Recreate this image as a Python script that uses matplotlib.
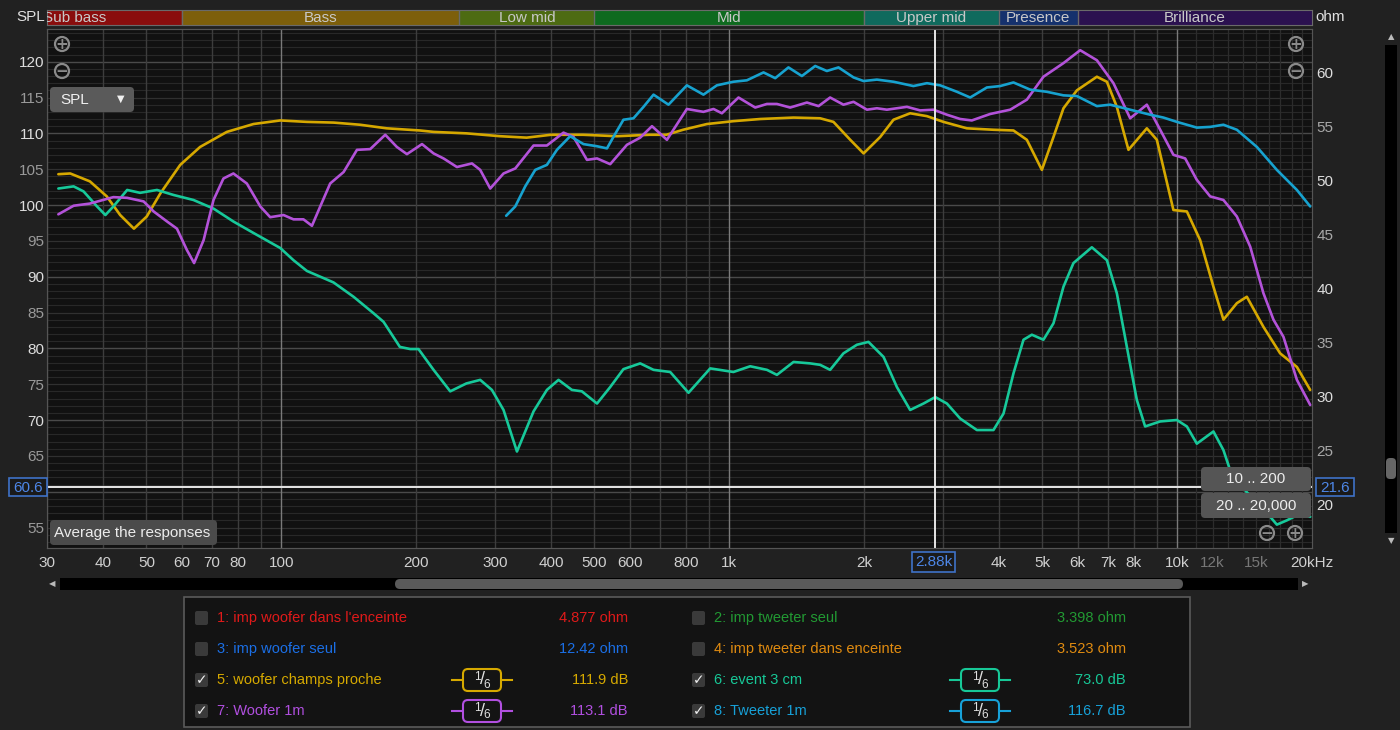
import matplotlib
matplotlib.use("Agg")
import matplotlib.pyplot as plt
from matplotlib.patches import FancyBboxPatch, Rectangle, Circle
import numpy as np

plt.rcParams['font.family'] = ['Liberation Sans', 'DejaVu Sans']

# ---------------- data ----------------
yellow_f = [31.8, 33.8, 37.4, 40.8, 43.7, 46.9, 50.1, 53.7, 59.5, 65.9, 75.6, 86.7, 99.5, 114, 131, 150, 172, 204,
            219, 259, 308, 353, 400, 472, 562, 665, 724, 789, 892, 1022, 1173, 1392, 1596, 1709, 1863, 1995, 2174,
            2327, 2535, 2763, 3008, 3393, 3890, 4311, 4618, 4989, 5296, 5575, 5973, 6619, 6968, 7334, 7786, 8557,
            9009, 9810, 10512, 11254, 12050, 12686, 13591, 14306, 15580, 16980, 18507, 19818]
yellow_db = [104.3, 104.4, 103.3, 101.2, 98.6, 96.7, 98.4, 101.6, 105.6, 108.1, 110.2, 111.3, 111.8, 111.6, 111.5,
             111.2, 110.7, 110.4, 110.2, 110.0, 109.6, 109.4, 109.8, 109.8, 109.6, 109.8, 109.8, 110.5, 111.3, 111.7,
             112.0, 112.2, 112.1, 111.6, 109.1, 107.2, 109.5, 111.9, 112.8, 112.4, 111.6, 110.7, 110.5, 110.4, 109.1,
             104.9, 109.5, 113.5, 116.0, 117.9, 117.2, 113.7, 107.7, 110.7, 109.1, 99.3, 99.1, 95.1, 88.6, 84.0, 86.3,
             87.2, 83.0, 79.3, 77.4, 74.2]

purple_f = [31.8, 34.4, 37.4, 42.2, 45.3, 49.3, 51.9, 55.6, 58.5, 61.6, 63.9, 67.1, 70.6, 74.3, 78.2, 83.8, 89.8,
            94.5, 101.2, 106.5, 112.1, 117.1, 122.2, 128.6, 137.8, 147.6, 158, 170.7, 181.2, 190.8, 206.2, 218.8,
            230.3, 246.7, 266.5, 278.1, 292.8, 313.5, 333, 365.8, 391.8, 426.7, 449.2, 481.4, 506.9, 542.5, 591.2,
            632.9, 672.4, 726.1, 804.5, 876.1, 922.6, 963.2, 1049, 1143, 1214, 1278, 1368, 1491, 1583, 1680, 1799,
            1895, 2030, 2137, 2249, 2493, 2669, 2858, 3062, 3279, 3480, 3824, 4240, 4618, 5029, 5575, 6075, 6619,
            7207, 7855, 8557, 9165, 9810, 10421, 11066, 11850, 12686, 13591, 14555, 15580, 16406, 17272, 18507, 19818]
purple_db = [98.7, 99.9, 100.2, 101.1, 101.0, 100.5, 99.1, 97.7, 96.7, 93.7, 91.9, 95.1, 100.7, 103.7, 104.4, 103.0,
             99.8, 98.3, 98.6, 98.0, 98.0, 97.1, 99.8, 103.0, 104.6, 107.7, 107.8, 109.8, 108.1, 107.1, 108.5, 107.2,
             106.5, 105.3, 105.8, 104.9, 102.3, 104.4, 105.1, 108.3, 108.3, 110.1, 109.5, 106.3, 106.5, 105.7, 108.4,
             109.4, 111.0, 109.1, 113.4, 113.0, 113.4, 112.8, 115.0, 113.6, 114.1, 114.1, 113.6, 114.3, 113.8, 115.0,
             114.0, 114.4, 113.3, 113.5, 113.3, 113.7, 113.2, 113.3, 112.6, 112.0, 111.8, 112.7, 113.3, 114.7, 117.9,
             119.8, 121.6, 120.2, 117.0, 112.1, 114.0, 110.5, 107.0, 106.5, 103.5, 101.2, 100.7, 98.4, 94.2, 87.7,
             84.0, 81.6, 75.6, 72.1]

blue_f = [317.8, 333, 350.5, 369, 391.8, 412.5, 441.6, 472.9, 506.9, 533.5, 551.5, 580.7, 611.4, 643.8, 677.8, 732,
          804.5, 876.1, 938.7, 1022, 1095, 1193, 1267, 1356, 1453, 1556, 1652, 1754, 1895, 1995, 2137, 2327, 2578,
          2763, 2958, 3224, 3451, 3760, 4027, 4311, 4698, 5118, 5575, 5973, 6619, 7086, 7855, 8707, 9320, 9985,
          11066, 11850, 12686, 13591, 15067, 16694, 18507, 19818]
blue_db = [98.5, 99.8, 102.6, 104.9, 105.6, 107.7, 109.6, 108.5, 108.2, 107.9, 109.5, 111.9, 112.1, 113.7, 115.4,
           114.0, 116.7, 115.4, 116.7, 117.2, 117.4, 118.5, 117.7, 119.2, 118.0, 119.4, 118.7, 119.2, 117.8, 117.3,
           117.5, 117.2, 116.6, 117.0, 116.7, 115.8, 115.0, 116.4, 116.6, 117.1, 116.1, 115.8, 115.3, 115.2, 113.8,
           114.0, 113.3, 112.6, 112.2, 111.6, 110.8, 110.9, 111.2, 110.5, 108.1, 104.9, 102.1, 99.8]

green_f = [31.8, 34.4, 36.2, 38.8, 40.5, 42.2, 45.3, 48.4, 52.8, 57.5, 63.7, 70.6, 78.2, 86.7, 99.5, 106.5, 114.1,
           124.3, 130.8, 145, 160.7, 169.2, 184, 194.1, 202.5, 218.8, 238.4, 259, 278.1, 295.3, 313.5, 335.9, 365.8,
           391.8, 415.9, 445.5, 469, 506.9, 542.5, 580.7, 632.9, 677.8, 738.4, 811.3, 907.1, 1022, 1114, 1214, 1278,
           1392, 1516, 1596, 1680, 1799, 1928, 2046, 2211, 2368, 2535, 2715, 2884, 3062, 3279, 3572, 3890, 4096,
           4311, 4539, 4739, 5029, 5296, 5575, 5868, 6450, 6968, 7334, 7722, 8128, 8482, 9165, 9985, 10512, 11066,
           12050, 12686, 13129, 14184, 15167, 16130, 16694, 17578, 18507, 19818]
green_db = [102.3, 102.6, 101.9, 99.8, 98.6, 99.8, 102.1, 101.7, 102.1, 101.4, 100.7, 99.5, 97.7, 96.1, 94.0, 92.3,
            90.8, 89.8, 89.2, 87.2, 84.9, 83.7, 80.2, 79.9, 79.9, 77.0, 74.0, 75.1, 75.6, 74.2, 71.4, 65.6, 71.2,
            74.2, 75.6, 74.2, 74.0, 72.3, 74.6, 77.1, 77.9, 77.0, 76.7, 73.8, 77.2, 76.7, 77.5, 77.0, 76.3, 78.1,
            77.9, 77.7, 77.0, 79.3, 80.5, 80.9, 78.8, 74.6, 71.4, 72.3, 73.2, 72.3, 70.2, 68.6, 68.6, 70.9, 76.5,
            81.2, 81.9, 81.2, 83.5, 88.6, 91.9, 94.1, 92.3, 87.7, 80.2, 72.8, 69.1, 69.8, 70.0, 69.1, 66.7, 68.4,
            65.8, 63.0, 60.2, 58.1, 56.5, 55.4, 56.0, 56.7, 56.5]

band_names = ["Sub bass", "Bass", "Low mid", "Mid", "Upper mid", "Presence", "Brilliance"]
band_edges = [20, 60, 250, 500, 2000, 4000, 6000, 20000]
band_colors = ["#8a0d0d", "#7d5f0b", "#4d6b12", "#0e6a1f", "#0f6a5d", "#15316d", "#2b1150"]

x_ticks = [30, 40, 50, 60, 70, 80, 100, 200, 300, 400, 500, 600, 800, 1000, 2000, 4000, 5000, 6000, 7000, 8000,
           10000, 12000, 15000, 20000]
x_labels = ["30", "40", "50", "60", "70", "80", "100", "200", "300", "400", "500", "600", "800", "1k", "2k", "4k",
            "5k", "6k", "7k", "8k", "10k", "12k", "15k", "20kHz"]
spl_ticks = [55, 65, 70, 75, 80, 85, 90, 95, 100, 105, 110, 115, 120]
ohm_ticks = [20, 25, 30, 35, 40, 45, 50, 55, 60]

cursor_freq = 2880
cursor_spl = 60.6
cursor_ohm = 21.6

legend_labels = ["1: imp woofer dans l'enceinte", "2: imp tweeter seul", "3: imp woofer seul",
                 "4: imp tweeter dans enceinte", "5: woofer champs proche", "6: event 3 cm", "7: Woofer 1m",
                 "8: Tweeter 1m"]
legend_values = ["4.877 ohm", "3.398 ohm", "12.42 ohm", "3.523 ohm", "111.9 dB", "73.0 dB", "113.1 dB", "116.7 dB"]
legend_colors = ["#e01a1a", "#229a33", "#1b6fe6", "#e08b10", "#d6a900", "#17c897", "#b14fe0", "#17a1d8"]
legend_checked = [False, False, False, False, True, True, True, True]

# ---------------- figure ----------------
W, H = 1400, 730
fig = plt.figure(figsize=(14, 7.3), dpi=100, facecolor='#212121')


def fr(x0, y0, x1, y1):
    return [x0 / W, 1 - y1 / H, (x1 - x0) / W, (y1 - y0) / H]


ax = fig.add_axes(fr(47, 29, 1312, 548))
ax.set_zorder(2)
ax.set_facecolor('#111111')
ax.set_xscale('log')
ax.set_xlim(30, 20000)
ax.set_ylim(52.14, 124.56)

# grid
for v in range(53, 125):
    if v % 10 == 0:
        c, lw = '#4a4a4a', 1.0
    elif v % 5 == 0:
        c, lw = '#303030', 0.9
    else:
        c, lw = '#282828', 0.8
    ax.axhline(v, color=c, lw=lw, zorder=0.5)
for dec in [10, 100, 1000]:
    for m in range(2, 10):
        f = dec * m
        if 30 <= f <= 20000:
            ax.axvline(f, color='#3d3d3d', lw=1.0, zorder=0.6)
for f in [100, 1000, 10000]:
    ax.axvline(f, color='#7a7a7a', lw=1.0, zorder=0.7)
for m in range(11, 20):
    ax.axvline(m * 1000, color='#2c2c2c', lw=0.9, zorder=0.6)

line_kw = dict(lw=1.9, zorder=3, solid_joinstyle='round', solid_capstyle='round')
ax.plot(yellow_f, yellow_db, color='#d6a800', **line_kw)
ax.plot(green_f, green_db, color='#17c99a', **line_kw)
ax.plot(purple_f, purple_db, color='#b352d9', **line_kw)
ax.plot(blue_f, blue_db, color='#17a2cf', **line_kw)

ax.axvline(cursor_freq, color='#e6e6e6', lw=1.4, zorder=4)
ax.axhline(cursor_spl, color='#e6e6e6', lw=1.4, zorder=4)

ax.set_xticks(x_ticks)
ax.set_xticklabels(x_labels)
ax.minorticks_off()
ax.set_yticks(spl_ticks)
ax.tick_params(axis='x', length=0, pad=6, labelsize=11, colors='#d0d0d0')
ax.tick_params(axis='y', length=0, pad=2, labelsize=11, colors='#d0d0d0')
for lab in ax.get_xticklabels():
    if lab.get_text() in ("12k", "15k"):
        lab.set_color('#777777')
for lab, t in zip(ax.get_yticklabels(), spl_ticks):
    lab.set_color('#dddddd' if t % 10 == 0 else '#9a9a9a')
for s in ax.spines.values():
    s.set_color('#555555')

ax2 = ax.twinx()
ax2.set_ylim(16.0, 64.05)
ax2.set_yticks(ohm_ticks)
ax2.tick_params(axis='y', length=0, pad=3, labelsize=11, colors='#c8c8c8')
for lab, t in zip(ax2.get_yticklabels(), ohm_ticks):
    lab.set_color('#dddddd' if t % 10 == 0 else '#a8a8a8')
for s in ax2.spines.values():
    s.set_color('#555555')

# frequency bands
bax = fig.add_axes(fr(47, 10, 1312, 25))
bax.set_xscale('log')
bax.set_xlim(30, 20000)
bax.set_ylim(0, 1)
bax.set_xticks([])
bax.set_yticks([])
bax.minorticks_off()
for s in bax.spines.values():
    s.set_color('#6a6a6a')
for name, lo, hi, col in zip(band_names, band_edges[:-1], band_edges[1:], band_colors):
    bax.axvspan(lo, hi, color=col, zorder=1)
    bax.axvline(lo, color='#6a6a6a', lw=1.0, zorder=2)
    bax.text(np.sqrt(lo * hi), 0.45, name, ha='center', va='center', fontsize=11, color='#c8c8c8',
             clip_on=True, zorder=3)

# ---------------- UI overlay ----------------
ui = fig.add_axes([0, 0, 1, 1])
ui.set_zorder(10)
ui.set_xlim(0, W)
ui.set_ylim(H, 0)
ui.axis('off')
ui.patch.set_alpha(0)


def rbox(x0, y0, x1, y1, fc, ec='none', r=3, lw=1.0, z=5):
    p = FancyBboxPatch((x0 + r, y0 + r), x1 - x0 - 2 * r, y1 - y0 - 2 * r,
                       boxstyle=f"round,pad={r}", fc=fc, ec=ec, lw=lw, zorder=z)
    ui.add_patch(p)


ui.text(16, 17, "SPL", ha='left', va='center', fontsize=11, color='#e0e0e0')
ui.text(1315, 17, "ohm", ha='left', va='center', fontsize=11, color='#e0e0e0')

# zoom icons
for (cx, cy, sym) in [(62, 44, '+'), (62, 71, '−'), (1296, 44, '+'), (1296, 71, '−'),
                      (1267, 533, '−'), (1295, 533, '+')]:
    ui.add_patch(Circle((cx, cy), 7, fc='none', ec='#8a8a8a', lw=1.6, zorder=6))
    ui.text(cx, cy + 0.5, sym, ha='center', va='center', fontsize=11, color='#8a8a8a',
            fontweight='bold', family=['DejaVu Sans'], zorder=7)

# SPL dropdown
rbox(50, 87, 134, 112, '#5a5a5a', r=4)
ui.text(60, 100, "SPL", ha='left', va='center', fontsize=11, color='#f0f0f0', zorder=7)
ui.text(121, 99, "▼", ha='center', va='center', fontsize=7, color='#f0f0f0', family=['DejaVu Sans'], zorder=7)

# Average button
rbox(50, 520, 217, 545, '#4b4b4b', r=4)
ui.text(54, 533, "Average the responses", ha='left', va='center', fontsize=11, color='#ececec', zorder=7)

# range buttons
rbox(1201, 467, 1311, 491, '#555555', r=4)
ui.text(1256, 479, "10 .. 200", ha='center', va='center', fontsize=11, color='#ececec', zorder=7)
rbox(1201, 493, 1311, 518, '#555555', r=4)
ui.text(1256, 506, "20 .. 20,000", ha='center', va='center', fontsize=11, color='#ececec', zorder=7)

# cursor value boxes
ui.add_patch(Rectangle((9, 478), 38, 18, fc='#1a1a1a', ec='#3f72c8', lw=1.2, zorder=6))
ui.text(28, 487.5, f"{cursor_spl:.1f}", ha='center', va='center', fontsize=11, color='#4d86e6', zorder=7)
ui.add_patch(Rectangle((1316, 478), 38, 18, fc='#1a1a1a', ec='#3f72c8', lw=1.2, zorder=6))
ui.text(1335, 487.5, f"{cursor_ohm:.1f}", ha='center', va='center', fontsize=11, color='#4d86e6', zorder=7)
ui.add_patch(Rectangle((912, 552), 43, 20, fc='#1a1a1a', ec='#3f72c8', lw=1.2, zorder=6))
ui.text(933.5, 562.5, f"{cursor_freq / 1000:.2f}k", ha='center', va='center', fontsize=11, color='#4d86e6',
        zorder=7)

# horizontal scrollbar
ui.add_patch(Rectangle((60, 578), 1238, 12, fc='#000000', ec='none', zorder=5))
rbox(395, 579, 1183, 589, '#5a5a5a', r=5)
ui.text(52, 584, "◀", ha='center', va='center', fontsize=6, color='#bbbbbb', family=['DejaVu Sans'], zorder=7)
ui.text(1305, 584, "▶", ha='center', va='center', fontsize=6, color='#bbbbbb', family=['DejaVu Sans'], zorder=7)

# vertical scrollbar
ui.add_patch(Rectangle((1385, 45), 12, 488, fc='#000000', ec='none', zorder=5))
rbox(1386, 458, 1396, 479, '#666666', r=4)
ui.text(1391, 37, "▲", ha='center', va='center', fontsize=6, color='#bbbbbb', family=['DejaVu Sans'], zorder=7)
ui.text(1391, 541, "▼", ha='center', va='center', fontsize=6, color='#bbbbbb', family=['DejaVu Sans'], zorder=7)

# legend panel
ui.add_patch(Rectangle((184, 597), 1006, 130, fc='#131313', ec='#5a5a5a', lw=1.2, zorder=4))
row_y = [618, 649, 680, 711]
col_box = [195, 692]
col_text = [217, 714]
col_val = [628, 1126]
col_icon = [482, 980]
for i, (lab, val, col, chk) in enumerate(zip(legend_labels, legend_values, legend_colors, legend_checked)):
    c = i % 2
    y = row_y[i // 2]
    rbox(col_box[c], y - 7, col_box[c] + 13, y + 7, '#3a3a3a', r=2, z=5)
    if chk:
        ui.text(col_box[c] + 6.5, y + 0.5, "✓", ha='center', va='center', fontsize=10, color='#f0f0f0',
                family=['DejaVu Sans'], zorder=7)
    ui.text(col_text[c], y, lab, ha='left', va='center', fontsize=10.5, color=col, zorder=7)
    ui.text(col_val[c], y, val, ha='right', va='center', fontsize=10.5, color=col, zorder=7)
    if chk:
        cx = col_icon[c]
        ui.plot([cx - 30, cx + 30], [y, y], color=col, lw=1.5, zorder=5)
        rbox(cx - 19, y - 11, cx + 19, y + 11, '#141414', ec=col, r=5, lw=1.5, z=6)
        ui.text(cx - 5, y - 3, "1", ha='center', va='center', fontsize=8.5, color='#e0e0e0', zorder=7)
        ui.text(cx, y, "/", ha='center', va='center', fontsize=13, color='#e0e0e0', zorder=7)
        ui.text(cx + 5, y + 4.5, "6", ha='center', va='center', fontsize=8.5, color='#e0e0e0', zorder=7)

fig.savefig("out.png", dpi=100, facecolor=fig.get_facecolor())
